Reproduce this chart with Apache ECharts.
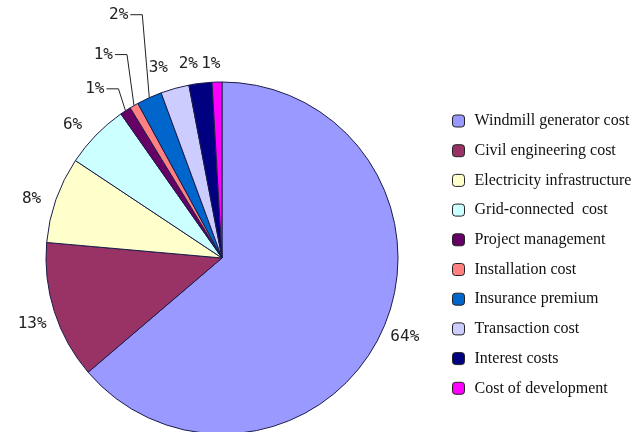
<!DOCTYPE html>
<html>
<head>
<meta charset="utf-8">
<script src="https://cdn.jsdelivr.net/npm/echarts@6/dist/echarts.min.js"></script>
<style>html,body{margin:0;padding:0;background:#fff;}#c{width:637px;height:432px;}</style>
</head>
<body>
<div id="c"></div>
<script>
const categories = ["Windmill generator cost","Civil engineering cost","Electricity infrastructure","Grid-connected  cost","Project management","Installation cost","Insurance premium","Transaction cost","Interest costs","Cost of development"];
const shares = [63.5, 12.6, 7.9, 5.9, 1.0, 0.8, 2.3, 2.6, 2.1, 0.9];
const colors = ["#9999ff","#993366","#ffffcc","#ccffff","#660066","#ff8080","#0066cc","#ccccff","#000080","#ff00ff"];

// label placement helpers (offsets only)
const lineLen = [5, 5, 5, 15, 10, 10, 10, 22, 20, 18];
const lineLen2 = [0, 0, 6, 0, 0, 0, 0, 0, 0, 0];
const labelGap = [3, 3, 3, 3, 3, 3, 3, 0, 0, 0];
const nudge = [[1,3],[0,11],[-1,1],[0,0],[0,0],[0,0],[0,0],[-1,1],[0,0],[4,0]];
const elbowRise = {4: 22, 5: 51, 6: 83};

const chart = echarts.init(document.getElementById('c'), null, {renderer:'canvas'});
const data = categories.map((n, i) => ({
  name: n,
  value: shares[i],
  itemStyle: {color: colors[i]},
  label: {distanceToLabelLine: labelGap[i]},
  labelLine: {show: elbowRise[i] !== undefined, length: lineLen[i], length2: lineLen2[i]}
}));

chart.setOption({
  backgroundColor: '#ffffff',
  animation: false,
  legend: {
    orient: 'vertical',
    left: 447,
    top: 108,
    itemWidth: 12,
    itemHeight: 12,
    itemGap: 13.7,
    icon: 'roundRect',
    textStyle: {fontFamily: 'Liberation Serif', fontSize: 16, color: '#111', padding: [0, 0, 0, 5]},
    itemStyle: {borderColor: '#222', borderWidth: 1},
    data: categories
  },
  series: [{
    type: 'pie',
    center: [222, 258],
    radius: 176,
    startAngle: 90,
    clockwise: true,
    avoidLabelOverlap: false,
    itemStyle: {borderColor: '#1c1c4a', borderWidth: 1},
    label: {
      show: true,
      position: 'outside',
      formatter: p => Math.round(p.value) + '%',
      fontFamily: 'DejaVu Sans Mono',
      fontSize: 16,
      color: '#222'
    },
    labelLine: {lineStyle: {color: '#222', width: 1}, smooth: false},
    labelLayout: function (p) {
      const i = p.dataIndex;
      if (elbowRise[i] !== undefined && p.labelLinePoints) {
        const p0 = p.labelLinePoints[0];
        const x1 = p0[0] - 7, y1 = p0[1] - elbowRise[i];
        const x2 = x1 - 12;
        return {x: x2 - 2, y: y1, align: 'right', verticalAlign: 'middle',
                labelLinePoints: [[p0[0], p0[1]], [x1, y1], [x2, y1]]};
      }
      return {dx: nudge[i][0], dy: nudge[i][1]};
    },
    data: data
  }]
});
</script>
</body>
</html>
